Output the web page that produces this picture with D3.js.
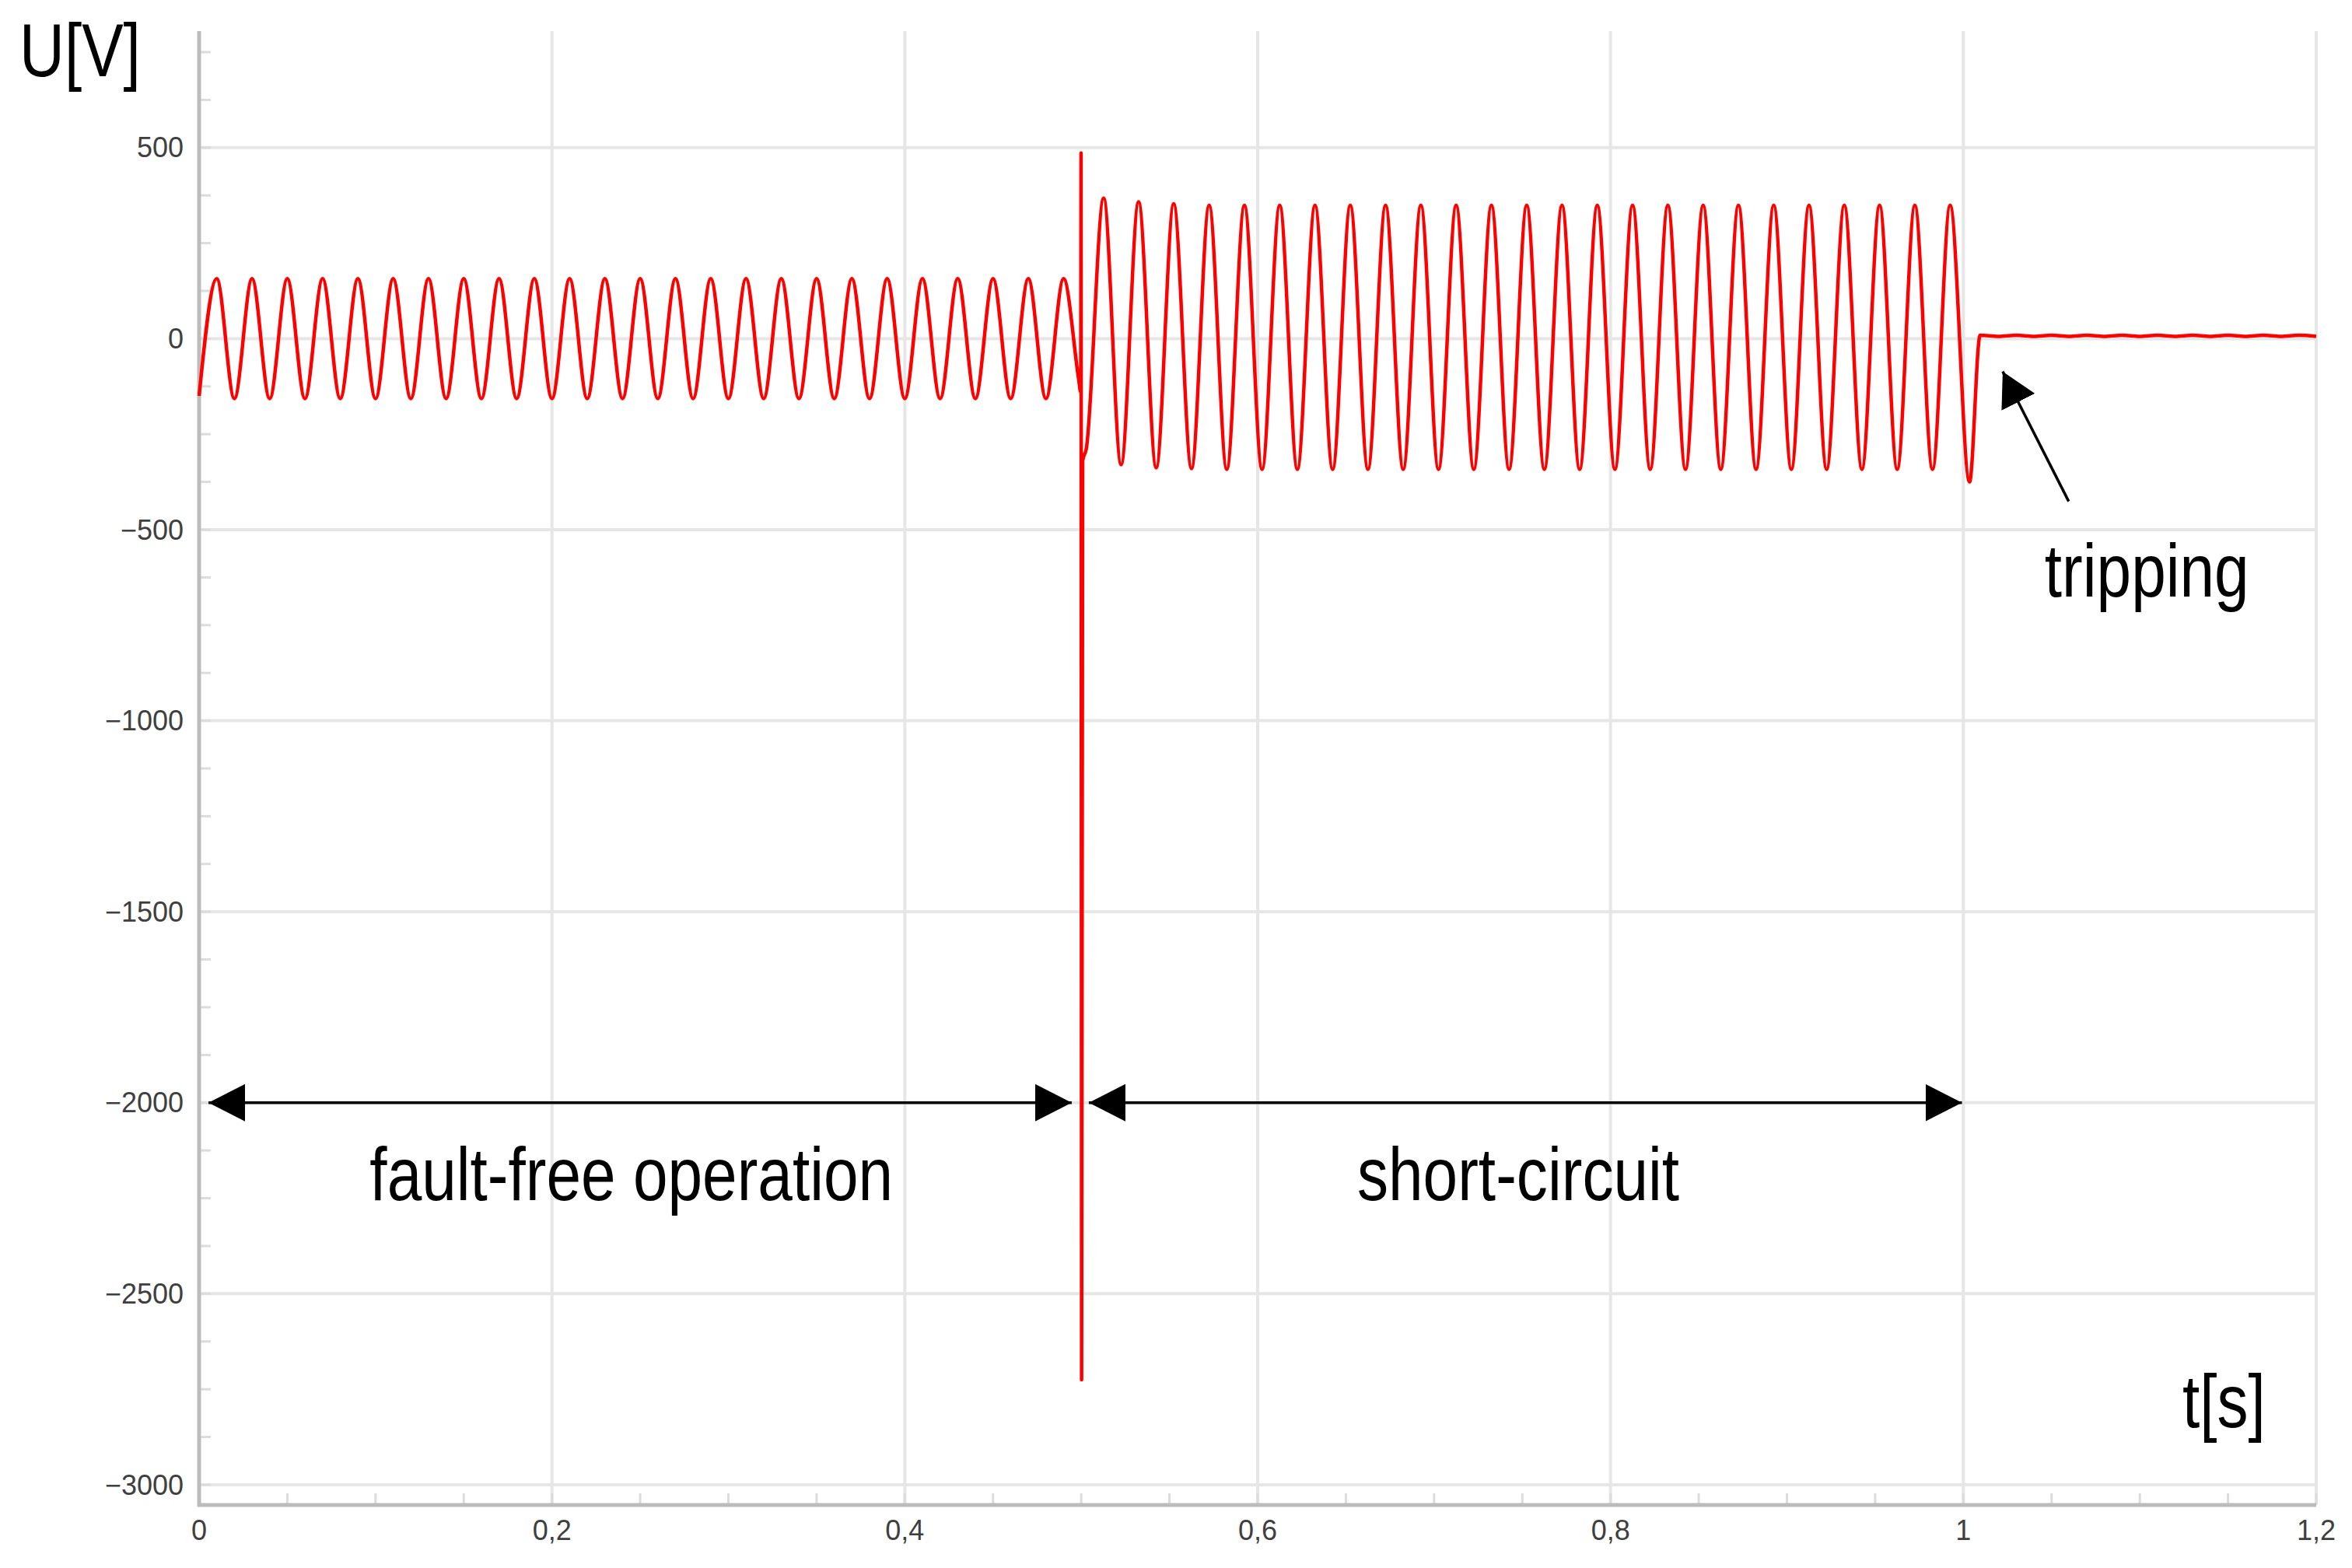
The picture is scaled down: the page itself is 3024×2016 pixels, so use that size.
<!DOCTYPE html>
<html>
<head>
<meta charset="utf-8">
<script src="https://cdn.jsdelivr.net/npm/d3@7"></script>
<style>
    body { margin: 0; background: #fff; }
    .tick-label { font-family: "Liberation Sans", Arial, sans-serif; font-size: 36px; fill: #3f3f3f; }
    .big { font-family: "Liberation Sans", Arial, sans-serif; font-size: 96px; fill: #000; }
</style>
</head>
<body>
<div id="chart"></div>
<script>
// DATA
// fault-free operation: extrema of the 50 Hz wave
var faultFreeTimes = [0, 0.01, 0.02, 0.03, 0.04, 0.05, 0.06, 0.07, 0.08, 0.09,
    0.10, 0.11, 0.12, 0.13, 0.14, 0.15, 0.16, 0.17, 0.18, 0.19,
    0.20, 0.21, 0.22, 0.23, 0.24, 0.25, 0.26, 0.27, 0.28, 0.29,
    0.30, 0.31, 0.32, 0.33, 0.34, 0.35, 0.36, 0.37, 0.38, 0.39,
    0.40, 0.41, 0.42, 0.43, 0.44, 0.45, 0.46, 0.47, 0.48, 0.49]
var faultFreeVolts = [-150, 157, -157, 157, -157, 157, -157, 157, -157, 157,
    -157, 157, -157, 157, -157, 157, -157, 157, -157, 157,
    -157, 157, -157, 157, -157, 157, -157, 157, -157, 157,
    -157, 157, -157, 157, -157, 157, -157, 157, -157, 157,
    -157, 157, -157, 157, -157, 157, -157, 157, -157, 157]

// fault inception spike
var spikeTimes = [0.4985, 0.4997, 0.4999, 0.5002, 0.5008, 0.5028]
var spikeVolts = [-105, -140, 486, -2725, -320, -290]

// short-circuit wave
var shortTimes = [0.5127, 0.5226, 0.5325, 0.5425, 0.5524, 0.5625, 0.5725, 0.5825, 0.5925, 0.6025,
    0.6125, 0.6225, 0.6325, 0.6425, 0.6525, 0.6625, 0.6725, 0.6825, 0.6925, 0.7025,
    0.7125, 0.7225, 0.7325, 0.7425, 0.7525, 0.7625, 0.7725, 0.7825, 0.7925, 0.8025,
    0.8125, 0.8225, 0.8325, 0.8425, 0.8525, 0.8625, 0.8725, 0.8825, 0.8925, 0.9025,
    0.9125, 0.9225, 0.9325, 0.9425, 0.9525, 0.9625, 0.9725, 0.9825, 0.9925, 1.0035]
var shortVolts = [368, -330, 358, -338, 353, -340, 349, -342, 349, -342,
    349, -342, 349, -342, 349, -342, 349, -342, 349, -342,
    349, -342, 349, -342, 349, -342, 349, -342, 349, -342,
    349, -342, 349, -342, 349, -342, 349, -342, 349, -342,
    349, -342, 349, -342, 349, -342, 349, -342, 349, -375]

// after tripping
var trippedTimes = [1.0095, 1.02, 1.03, 1.04, 1.05, 1.06, 1.07, 1.08, 1.09, 1.10,
    1.11, 1.12, 1.13, 1.14, 1.15, 1.16, 1.17, 1.18, 1.19, 1.20]
var trippedVolts = [9, 6, 9, 6, 9, 6, 9, 6, 9, 6,
    9, 6, 9, 6, 9, 6, 9, 6, 9, 6]

var xMajorTicks = [0, 0.2, 0.4, 0.6, 0.8, 1, 1.2]
var xTickLabels = ["0", "0,2", "0,4", "0,6", "0,8", "1", "1,2"]
var yMajorTicks = [500, 0, -500, -1000, -1500, -2000, -2500, -3000]
var yTickLabels = ["500", "0", "\u2212500", "\u22121000", "\u22121500", "\u22122000", "\u22122500", "\u22123000"]

// annotation arrows [t0, t1, U]
var spanFaultFree = [0.0053, 0.4946, -2000]
var spanShort = [0.5043, 0.9992, -2000]
var trippingArrow = [1.0597, -426, 1.0223, -86]

var margin = { top: 40, left: 256, right: 46, bottom: 81 },
    W = 3024, H = 2016,
    width = W - margin.left - margin.right,
    height = H - margin.top - margin.bottom

var svg = d3.select("#chart")
    .append("svg")
    .attr("width", W)
    .attr("height", H)
    .style("display", "block")

var g = svg.append("g")
    .attr("transform", "translate(" + margin.left + "," + margin.top + ")")

// SCALES
var x = d3.scaleLinear().domain([0, 1.2]).range([0, width])
var y = d3.scaleLinear().domain([-3053, 805]).range([height, 0])

// GRID
g.selectAll(".hgrid")
    .data(yMajorTicks)
    .enter().append("line")
    .attr("x1", 0).attr("x2", width)
    .attr("y1", d => y(d)).attr("y2", d => y(d))
    .attr("stroke", "#e6e6e6").attr("stroke-width", 4)

g.selectAll(".vgrid")
    .data(xMajorTicks.slice(1))
    .enter().append("line")
    .attr("x1", d => x(d)).attr("x2", d => x(d))
    .attr("y1", 0).attr("y2", height)
    .attr("stroke", "#e6e6e6").attr("stroke-width", 4)

// minor ticks
g.selectAll(".ymin")
    .data(d3.range(-3000, 801, 125))
    .enter().append("line")
    .attr("x1", 0).attr("x2", 15)
    .attr("y1", d => y(d)).attr("y2", d => y(d))
    .attr("stroke", "#dcdcdc").attr("stroke-width", 3)

g.selectAll(".xmin")
    .data(d3.range(0, 1.2001, 0.05))
    .enter().append("line")
    .attr("x1", d => x(d)).attr("x2", d => x(d))
    .attr("y1", height).attr("y2", height - 15)
    .attr("stroke", "#dcdcdc").attr("stroke-width", 3)

// AXES LINES
g.append("line")
    .attr("x1", 0).attr("x2", 0).attr("y1", 0).attr("y2", height + 2)
    .attr("stroke", "#bcbcbc").attr("stroke-width", 5)
g.append("line")
    .attr("x1", -2).attr("x2", width).attr("y1", height).attr("y2", height)
    .attr("stroke", "#bcbcbc").attr("stroke-width", 5)

// tick labels
g.selectAll(".ylab")
    .data(yMajorTicks)
    .enter().append("text")
    .attr("class", "tick-label")
    .attr("x", -20)
    .attr("y", d => y(d))
    .attr("dy", "0.35em")
    .attr("text-anchor", "end")
    .text((d, i) => yTickLabels[i])

g.selectAll(".xlab")
    .data(xMajorTicks)
    .enter().append("text")
    .attr("class", "tick-label")
    .attr("x", d => x(d))
    .attr("y", height + 32)
    .attr("dy", "0.35em")
    .attr("text-anchor", "middle")
    .text((d, i) => xTickLabels[i])

// SIGNAL
var points = []
faultFreeTimes.forEach((t, i) => points.push([t, faultFreeVolts[i]]))
spikeTimes.forEach((t, i) => points.push([t, spikeVolts[i]]))
shortTimes.forEach((t, i) => points.push([t, shortVolts[i]]))
trippedTimes.forEach((t, i) => points.push([t, trippedVolts[i]]))

var line = d3.line()
    .x(d => x(d[0]))
    .y(d => y(d[1]))
    .curve(d3.curveMonotoneX)

g.append("path")
    .datum(points)
    .attr("fill", "none")
    .attr("stroke", "#ff0000")
    .attr("stroke-width", 4.5)
    .attr("stroke-linejoin", "round")
    .attr("d", line)

// ARROWS
var defs = svg.append("defs")
defs.append("marker")
    .attr("id", "head")
    .attr("markerUnits", "userSpaceOnUse")
    .attr("markerWidth", 48).attr("markerHeight", 48)
    .attr("refX", 47).attr("refY", 24)
    .attr("orient", "auto-start-reverse")
    .append("path")
    .attr("d", "M0,0 L47,24 L0,48 Z")
    .attr("fill", "#000")

defs.append("marker")
    .attr("id", "head2")
    .attr("markerUnits", "userSpaceOnUse")
    .attr("markerWidth", 48).attr("markerHeight", 48)
    .attr("refX", 44).attr("refY", 24)
    .attr("orient", "auto")
    .append("path")
    .attr("d", "M0,0 L44,24 L0,48 Z")
    .attr("fill", "#000")

;[spanFaultFree, spanShort].forEach(s => {
    g.append("line")
        .attr("x1", x(s[0])).attr("x2", x(s[1]))
        .attr("y1", y(s[2])).attr("y2", y(s[2]))
        .attr("stroke", "#000").attr("stroke-width", 3.5)
        .attr("marker-start", "url(#head)")
        .attr("marker-end", "url(#head)")
})

g.append("line")
    .attr("x1", x(trippingArrow[0])).attr("y1", y(trippingArrow[1]))
    .attr("x2", x(trippingArrow[2])).attr("y2", y(trippingArrow[3]))
    .attr("stroke", "#000").attr("stroke-width", 3.5)
    .attr("marker-end", "url(#head2)")

// TEXT (narrow face faked with a horizontal squeeze)
function bigText(parent, px, py, anchor, str) {
    parent.append("text").attr("class", "big")
        .attr("transform", "translate(" + px + "," + py + ") scale(0.835,1)")
        .attr("text-anchor", anchor)
        .text(str)
}

bigText(g, x(0.245), y(-2255), "middle", "fault-free operation")
bigText(g, x(0.7477), y(-2255), "middle", "short-circuit")
bigText(g, x(1.104), y(-675), "middle", "tripping")
bigText(svg, 25, 98, "start", "U[V]")
bigText(svg, 2806, 1835, "start", "t[s]")
</script>
</body>
</html>
